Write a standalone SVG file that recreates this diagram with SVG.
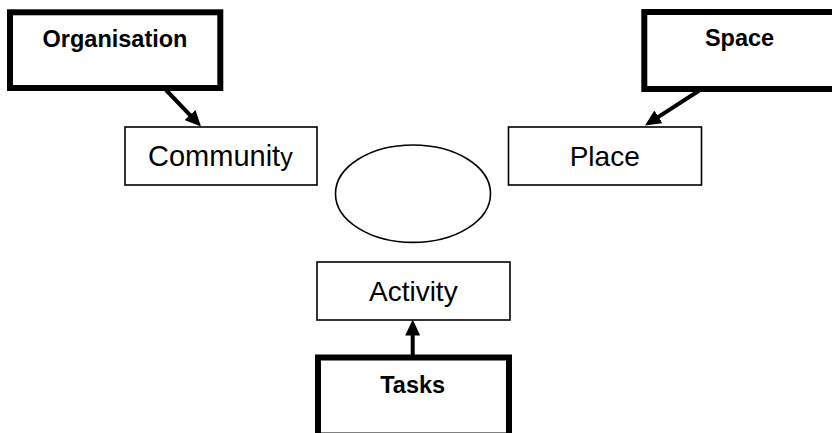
<svg xmlns="http://www.w3.org/2000/svg" width="832" height="433" viewBox="0 0 832 433">
<style>
.thick{fill:#fff;stroke:#000;stroke-width:6}
.thin{fill:#fff;stroke:#000;stroke-width:1.6}
.b{font-family:"Liberation Sans",Arial,sans-serif;font-weight:bold;font-size:23.5px;fill:#000;text-anchor:middle}
.r{font-family:"Liberation Sans",Arial,sans-serif;font-size:28px;fill:#000}
.c{text-anchor:middle}
.conn{stroke:#000;stroke-width:4;fill:none}
</style>
<defs>
<marker id="ah" markerUnits="userSpaceOnUse" markerWidth="16" markerHeight="15" refX="6" refY="7.5" orient="auto" viewBox="0 0 16 15">
<path d="M0,0 L16,7.5 L0,15 z" fill="#000"/>
</marker>
</defs>
<rect width="832" height="433" fill="#fff"/>
<g id="connectors">
<line class="conn" x1="166" y1="90" x2="194.1" y2="119.3" marker-end="url(#ah)"/>
<line class="conn" x1="700" y1="90" x2="653.4" y2="120.1" marker-end="url(#ah)"/>
<line class="conn" x1="412.7" y1="356" x2="412.7" y2="329.5" marker-end="url(#ah)"/>
</g>
<g id="organisation">
<rect class="thick" x="10" y="12.3" width="210.3" height="75.7"/>
<text class="b" x="115" y="46.7">Organisation</text>
</g>
<g id="space">
<rect class="thick" x="644.3" y="12" width="200" height="77"/>
<text class="b" x="739.5" y="46">Space</text>
</g>
<g id="community">
<rect class="thin" x="125" y="127" width="192" height="58"/>
<text class="r" x="148" y="166" style="font-size:29px">Communit<tspan style="font-size:25px">y</tspan></text>
</g>
<g id="place">
<rect class="thin" x="508.5" y="127" width="193" height="58"/>
<text class="r c" x="604.7" y="166">Place</text>
</g>
<g id="center">
<ellipse cx="413" cy="193.7" rx="77.5" ry="48.7" fill="#fff" stroke="#000" stroke-width="1.6"/>
</g>
<g id="activity">
<rect class="thin" x="317" y="262" width="193" height="58"/>
<text class="r c" x="413.3" y="300.5">Activity</text>
</g>
<g id="tasks">
<rect class="thick" x="318" y="357.5" width="191" height="78"/>
<text class="b" x="412.7" y="392.5">Tasks</text>
</g>
</svg>
